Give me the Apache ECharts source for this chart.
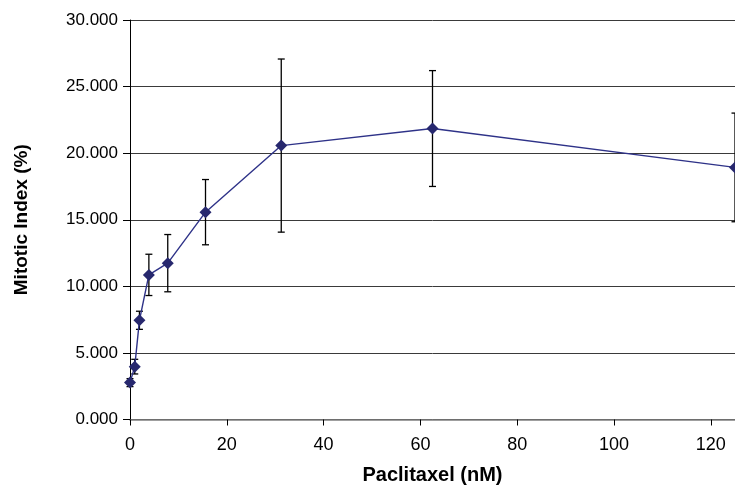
<!DOCTYPE html>
<html>
<head>
<meta charset="utf-8">
<script src="https://cdn.jsdelivr.net/npm/echarts@6/dist/echarts.min.js"></script>
<style>html,body{margin:0;padding:0;background:#fff;}#c{width:735px;height:487px;}</style>
</head>
<body>
<div id="c"></div>
<script>
const doses = [0, 0.98, 1.95, 3.9, 7.8, 15.6, 31.25, 62.5, 125];
const mitoticIndex = [2.77, 3.97, 7.45, 10.86, 11.74, 15.57, 20.57, 21.85, 18.93];
const errors = [0.3, 0.55, 0.68, 1.55, 2.15, 2.45, 6.5, 4.35, 4.08];
const xTicks = [0, 20, 40, 60, 80, 100, 120];
const yTicks = [0, 5, 10, 15, 20, 25, 30];

const lineData = doses.map((d, i) => [d, mitoticIndex[i]]);
const errData = doses.map((d, i) => [d, mitoticIndex[i] - errors[i], mitoticIndex[i] + errors[i]]);

const chart = echarts.init(document.getElementById('c'));
chart.setOption({
  animation: false,
  grid: { left: 130, right: 0, top: 20, bottom: 67.5, containLabel: false, outerBoundsMode: 'none' },
  xAxis: {
    type: 'value', min: 0, max: 125, interval: 20,
    name: 'Paclitaxel (nM)', nameLocation: 'middle', nameGap: 46,
    nameTextStyle: { fontFamily: 'Liberation Sans, Arial', fontWeight: 'bold', fontSize: 20, color: '#000' },
    axisLine: { show: true, lineStyle: { color: '#808080', width: 1.5 } },
    axisTick: { show: true, inside: false, length: 6, lineStyle: { color: '#000' } },
    axisLabel: { showMaxLabel: false, margin: 17, fontFamily: 'Liberation Sans, Arial', fontSize: 18, color: '#000',
      formatter: v => xTicks.includes(v) ? String(v) : '' },
    splitLine: { show: false }
  },
  yAxis: {
    type: 'value', min: 0, max: 30, interval: 5,
    name: 'Mitotic Index (%)', nameLocation: 'middle', nameGap: 99,
    nameTextStyle: { fontFamily: 'Liberation Sans, Arial', fontWeight: 'bold', fontSize: 19, color: '#000' },
    axisLine: { show: true, lineStyle: { color: '#000', width: 1 } },
    axisTick: { show: true, inside: false, length: 7, lineStyle: { color: '#000' } },
    axisLabel: { margin: 12, fontFamily: 'Liberation Sans, Arial', fontSize: 17, color: '#000',
      formatter: v => yTicks.includes(v) ? v.toFixed(3) : '' },
    splitLine: { show: true, lineStyle: { color: '#3a3a3a', width: 1 } }
  },
  series: [
    {
      type: 'custom',
      data: errData,
      clip: false,
      z: 3,
      renderItem: function (params, api) {
        const x = api.value(0);
        const lo = api.coord([x, api.value(1)]);
        const hi = api.coord([x, api.value(2)]);
        const w = 3.5;
        const style = { stroke: '#000', lineWidth: 1.3 };
        return {
          type: 'group',
          children: [
            { type: 'line', shape: { x1: lo[0], y1: lo[1], x2: hi[0], y2: hi[1] }, style: style },
            { type: 'line', shape: { x1: lo[0] - w, y1: lo[1], x2: lo[0] + w, y2: lo[1] }, style: style },
            { type: 'line', shape: { x1: hi[0] - w, y1: hi[1], x2: hi[0] + w, y2: hi[1] }, style: style }
          ]
        };
      }
    },
    {
      type: 'line',
      data: lineData,
      symbol: 'diamond',
      symbolSize: 12,
      clip: false,
      z: 4,
      lineStyle: { color: '#2e3288', width: 1.4 },
      itemStyle: { color: '#27286e' }
    }
  ]
});
</script>
</body>
</html>
